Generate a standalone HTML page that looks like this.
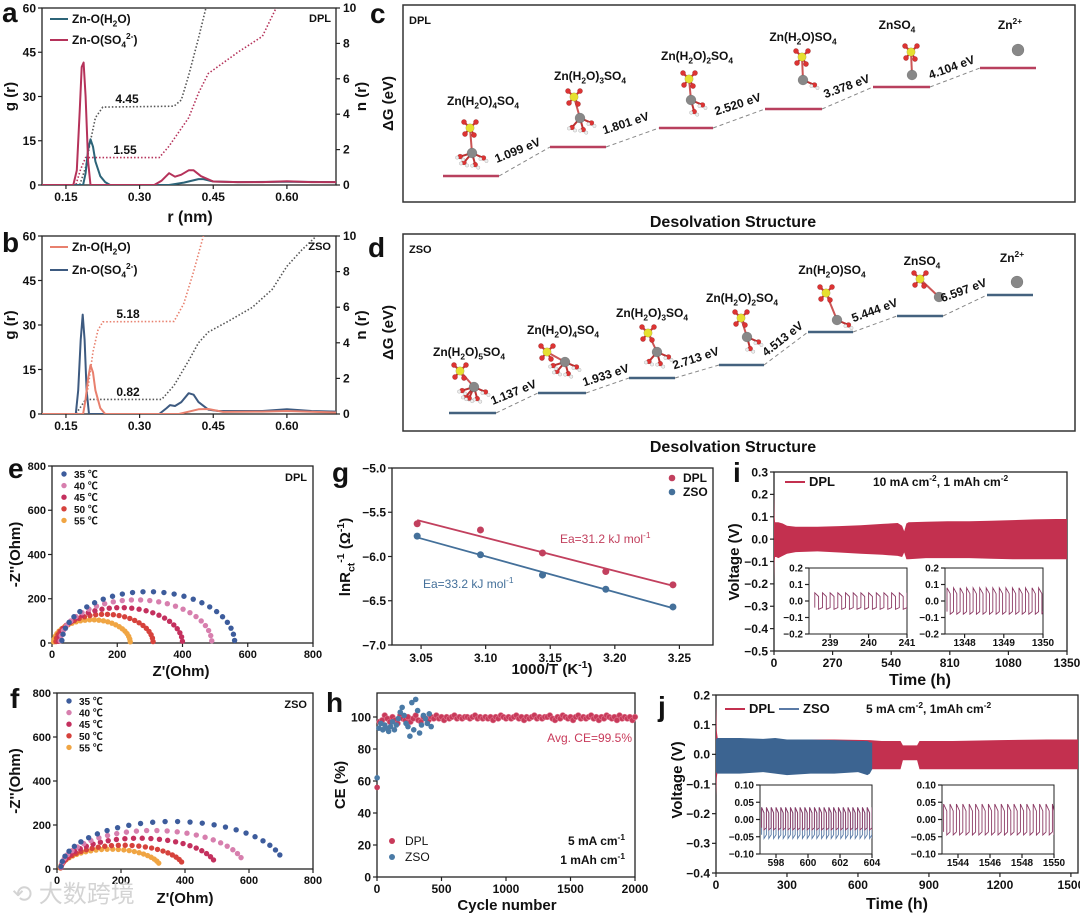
<!DOCTYPE html>
<html><head><meta charset="utf-8">
<style>
html,body{margin:0;padding:0;background:#fff;width:1080px;height:917px;overflow:hidden}
svg{display:block;font-family:"Liberation Sans","Noto Sans CJK SC",sans-serif}
</style></head>
<body>
<svg id="fig" width="1080" height="917" viewBox="0 0 1080 917"></svg>
<script>
// ---------- DATA ----------
// panel a (DPL RDF)
const aR_H2O=[0.10,0.185,0.19,0.195,0.20,0.205,0.21,0.22,0.23,0.24,0.36,0.39,0.42,0.43,0.45,0.50,0.60,0.70];
const aG_H2O=[0,0,4,12,15.5,13,8,3,1,0,0,0.8,2,2,1.2,1,1.1,1];
const aR_SO4=[0.10,0.165,0.172,0.178,0.182,0.186,0.190,0.195,0.20,0.33,0.345,0.36,0.372,0.385,0.40,0.41,0.425,0.45,0.50,0.55,0.60,0.65,0.70];
const aG_SO4=[0,0,5,25,40,41.5,30,8,0,0,1.5,4,2.8,3.5,5,5,3,1.2,1,1,1.3,1,1];
const aNR_H2O=[0.10,0.178,0.19,0.20,0.21,0.225,0.37,0.385,0.40,0.42,0.435,0.44];
const aN_H2O=[0,0,1,2.5,3.8,4.4,4.45,4.8,6.2,8.3,10,10.5];
const aNR_SO4=[0.10,0.17,0.18,0.19,0.34,0.36,0.38,0.40,0.42,0.44,0.47,0.50,0.55,0.578,0.59];
const aN_SO4=[0,0,0.9,1.55,1.55,2.2,3.0,3.8,5.2,6.3,6.9,7.5,8.4,10,10.5];
// panel b (ZSO RDF)
const bR_H2O=[0.10,0.185,0.19,0.195,0.20,0.205,0.21,0.22,0.23,0.38,0.42,0.44,0.47,0.55,0.60,0.70];
const bG_H2O=[0,0,5,12,16.5,14,8,2,0,0,1.6,1.7,0.7,0.8,1,0.5];
const bR_SO4=[0.10,0.17,0.175,0.18,0.184,0.188,0.192,0.197,0.34,0.355,0.362,0.372,0.385,0.40,0.41,0.42,0.44,0.46,0.55,0.60,0.65,0.70];
const bG_SO4=[0,0,8,25,33.5,25,8,0,0,2,3,2.7,4,7,6.5,4,1.5,1,1,1.6,1,0.8];
const bNR_H2O=[0.10,0.185,0.195,0.205,0.215,0.225,0.37,0.39,0.41,0.43,0.44];
const bN_H2O=[0,0,1.5,3.5,4.7,5.18,5.2,6.2,8,10,11];
const bNR_SO4=[0.10,0.17,0.18,0.19,0.345,0.37,0.40,0.42,0.44,0.48,0.53,0.57,0.60,0.63,0.66,0.67];
const bN_SO4=[0,0,0.4,0.82,0.82,1.6,3.0,4.0,4.6,5.2,6.0,7.0,8.3,9.2,10,10.3];
const rTicks=[0.15,0.30,0.45,0.60], rTickLabels=['0.15','0.30','0.45','0.60'];
const gTicks=[0,15,30,45,60], nTicks=[0,2,4,6,8,10];
// panels e/f (EIS)
const tempLabels=['35 ℃','40 ℃','45 ℃','50 ℃','55 ℃'];
const tempColors=['#3d5c9c','#d77fae','#c4305e','#d6423c','#f0a543'];
const eR0=[30,25,20,12,5], eRct=[560,490,400,310,240], ePeak=[232,195,160,130,105];
const fR0=[12,12,12,12,10], fRct=[712,588,500,398,325], fPeak=[216,175,140,108,90];
// panel g
const gX=[3.047,3.096,3.144,3.193,3.245];
const gDPL=[-5.63,-5.70,-5.96,-6.17,-6.32];
const gZSO=[-5.77,-5.98,-6.21,-6.37,-6.57];
// panel h
const hFirstDPL=56, hFirstZSO=62;
const hDPL=[97,98,101,99,97,100,98,96,101,99,98,100,97,99,101,98,97,100,99,98,
100,99,101,99,100,98,100,99,100,101,99,100,99,100,100,99,100,101,99,100,
99,100,99,100,98,100,99,101,100,99,100,99,100,101,99,100,98,100,99,100,
101,99,100,99,100,100,101,99,98,100,99,101,100,99,100,98,100,101,99,100,
99,100,101,99,100,98,100,99,101,100,99,100,98,101,99,100,99,100,98,100];
const hZSO=[93,96,92,95,93,91,94,97,92,95,99,103,106,101,96,94,88,109,92,111,104,90,95,101,99,96,102,94];
// panel i
const iT=[0,2,5,10,20,40,60,100,200,300,400,500,570,590,600,610,620,700,800,900,1000,1100,1200,1300,1350];
const iUp=[0.21,0.1,0.075,0.075,0.075,0.07,0.06,0.055,0.055,0.058,0.062,0.068,0.072,0.06,0.035,0.07,0.075,0.078,0.08,0.08,0.082,0.085,0.088,0.09,0.09];
const iLo=[-0.18,-0.1,-0.08,-0.08,-0.085,-0.075,-0.065,-0.058,-0.055,-0.06,-0.065,-0.07,-0.075,-0.08,-0.06,-0.09,-0.09,-0.085,-0.085,-0.085,-0.088,-0.09,-0.09,-0.09,-0.09];
const iIns1Amp=[0.05,-0.05], iIns2Amp=[0.08,-0.08];
// panel j
const jT=[0,3,8,20,100,300,500,650,700,780,790,850,860,1000,1200,1400,1530];
const jUp=[0.17,0.08,0.05,0.05,0.05,0.05,0.05,0.048,0.045,0.045,0.03,0.03,0.045,0.045,0.048,0.05,0.05];
const jLo=[-0.14,-0.08,-0.05,-0.05,-0.05,-0.05,-0.05,-0.05,-0.05,-0.05,-0.02,-0.02,-0.05,-0.05,-0.05,-0.05,-0.05];
const zT=[0,5,20,100,200,250,300,400,500,600,640,650,660];
const zUp=[0.05,0.055,0.055,0.055,0.052,0.055,0.05,0.05,0.048,0.045,0.045,0.04,0.04];
const zLo=[-0.06,-0.065,-0.065,-0.065,-0.06,-0.065,-0.07,-0.065,-0.065,-0.06,-0.07,-0.065,-0.05];
const jIns1Amp=[0.035,-0.03], jIns2Amp=[0.045,-0.045];

// ---------- HELPERS ----------
const NS='http://www.w3.org/2000/svg';
const svg=document.getElementById('fig');
function mk(tag,attrs,parent){const e=document.createElementNS(NS,tag);for(const k in attrs)e.setAttribute(k,attrs[k]);(parent||svg).appendChild(e);return e;}
function nm(e,name,inter){
  
  
  return e;
}
function lin(d,r){return v=>r[0]+(v-d[0])*(r[1]-r[0])/(d[1]-d[0]);}
function T(x,y,s,o,name){
  o=o||{};const fs=o.fs||12;
  const t=mk('text',{x:x,y:y,'font-size':fs,'font-weight':o.w||'bold','text-anchor':o.a||'middle',fill:o.c||'#111'},o.p);
  if(o.r)t.setAttribute('transform','rotate('+o.r+' '+x+' '+y+')');
  const parts=String(s).split(/(_\{[^}]*\}|\^\{[^}]*\})/);let shift=0;
  parts.forEach(p=>{if(!p)return;let target=0,txt=p,small=false;
    if(p.startsWith('_{')){txt=p.slice(2,-1);target=fs*0.3;small=true;}
    else if(p.startsWith('^{')){txt=p.slice(2,-1);target=-fs*0.4;small=true;}
    const ts=mk('tspan',{dy:target-shift},t);if(small)ts.setAttribute('font-size',fs*0.7);ts.textContent=txt;shift=target;});
  nm(t,name||'label',false);return t;
}
let clipN=0;
const defs=mk('defs',{});
function axes(o){
  const g=mk('g',{});nm(g,o.name,false);
  const X=lin(o.xd,[o.x0,o.x1]),Y=lin(o.yd,[o.y1,o.y0]);
  const cp=mk('clipPath',{id:'cp'+(++clipN)},defs);
  mk('rect',{x:o.x0,y:o.y0,width:o.x1-o.x0,height:o.y1-o.y0},cp);
  const fs=o.fs||12;
  o.xt.forEach((v,i)=>{const x=X(v);const tk=mk('line',{x1:x,x2:x,y1:o.y1,y2:o.y1+4,stroke:'#222','stroke-width':1.2},g);nm(tk,'x-tick',false);
    if(o.xl)T(x,o.y1+(o.xlo||15),o.xl[i],{fs:fs,p:g},'x-tick-label');});
  o.yt.forEach((v,i)=>{const y=Y(v);const tk=mk('line',{x1:o.x0-4,x2:o.x0,y1:y,y2:y,stroke:'#222','stroke-width':1.2},g);nm(tk,'y-tick',false);
    if(o.yl)T(o.x0-6,y+fs*0.36,o.yl[i],{fs:fs,a:'end',p:g},'y-tick-label');});
  const fr=mk('rect',{x:o.x0,y:o.y0,width:o.x1-o.x0,height:o.y1-o.y0,fill:'none',stroke:'#222','stroke-width':o.sw||1.3},g);nm(fr,o.name+'-frame',false);
  return {X:X,Y:Y,g:g,clip:'url(#cp'+clipN+')'};
}
function pathD(xs,ys,X,Y){return xs.map((v,i)=>(i?'L':'M')+X(v).toFixed(1)+','+Y(ys[i]).toFixed(1)).join('');}
function band(ts,up,lo,X,Y){let d=ts.map((v,i)=>(i?'L':'M')+X(v).toFixed(1)+','+Y(up[i]).toFixed(1)).join('');
  for(let i=ts.length-1;i>=0;i--)d+='L'+X(ts[i]).toFixed(1)+','+Y(lo[i]).toFixed(1);return d+'Z';}
function wave(X,Y,t0,t1,per,amp){let d='';for(let t=t0;t<t1;t+=per){const h=Math.min(t+per/2,t1),e=Math.min(t+per,t1);
  d+=(d?'L':'M')+X(t).toFixed(1)+','+Y(amp[1]*0.8).toFixed(1)+'L'+X(t).toFixed(1)+','+Y(amp[0]).toFixed(1)+'L'+X(h).toFixed(1)+','+Y(amp[0]*0.55).toFixed(1)+'L'+X(h).toFixed(1)+','+Y(amp[1]).toFixed(1)+'L'+X(e).toFixed(1)+','+Y(amp[1]*0.8).toFixed(1);}return d;}

// ---------- PANEL LETTERS ----------
[['a',2,22],['b',2,252],['c',370,23],['d',368,257],['e',8,478],['f',10,708],['g',332,482],['h',326,712],['i',733,482],['j',658,716]].forEach(l=>{T(l[1],l[2],l[0],{fs:28,a:'start'},'panel-letter-'+l[0]);});

// ---------- PANELS a,b ----------
function rdfPanel(key,y0,y1,series,nser,labels,leg,tag){
  const A=axes({name:'panel-'+key+'-rdf-plot',x0:42,x1:336,y0:y0,y1:y1,xd:[0.1012,0.7],yd:[0,60],xt:rTicks,xl:rTickLabels,yt:gTicks,yl:gTicks.map(String),xlo:16,fs:12});
  const N=lin([0,10],[y1,y0]);
  nTicks.forEach(v=>{const l=mk('line',{x1:336,x2:340,y1:N(v),y2:N(v),stroke:'#222','stroke-width':1.2});nm(l,'right-y-tick',false);
    T(343,N(v)+4,String(v),{fs:12,a:'start'},'right-y-tick-label');});
  nser.forEach(s=>{const p=mk('path',{d:pathD(s[0],s[1],A.X,N),fill:'none',stroke:s[2],'stroke-width':1.6,'stroke-dasharray':'1.5 2','clip-path':A.clip});nm(p,s[3],false);});
  series.forEach(s=>{const p=mk('path',{d:pathD(s[0],s[1],A.X,A.Y),fill:'none',stroke:s[2],'stroke-width':2,'stroke-linejoin':'round','clip-path':A.clip});nm(p,s[3],false);});
  labels.forEach(l=>T(l[0],l[1],l[2],{fs:12},'coordination-number'));
  leg.forEach((l,i)=>{const ly=y0+11+i*(key==='a'?21:23);const ln=mk('line',{x1:50,x2:68,y1:ly,y2:ly,stroke:l[1],'stroke-width':2});nm(ln,'legend-line',false);
    T(72,ly+4,l[0],{fs:12,a:'start'},'legend-entry');});
  T(331,y0+14,tag,{fs:11,a:'end'},'panel-tag');
  T(15,(y0+y1)/2,'g (r)',{fs:15,r:-90},'y-axis-title');
  T(366,(y0+y1)/2,'n (r)',{fs:15,r:-90},'right-y-axis-title');
}
rdfPanel('a',8,185,[[aR_H2O,aG_H2O,'#2c6478','curve-zn-o-h2o'],[aR_SO4,aG_SO4,'#b5325a','curve-zn-o-so4']],
 [[aNR_H2O,aN_H2O,'#555','n-zn-o-h2o'],[aNR_SO4,aN_SO4,'#b5325a','n-zn-o-so4']],[[127,103,'4.45'],[125,154,'1.55']],
 [['Zn-O(H_{2}O)','#2c6478'],['Zn-O(SO_{4}^{2-})','#b5325a']],'DPL');
T(190,222,'r (nm)',{fs:16},'x-axis-title');
rdfPanel('b',236,414,[[bR_SO4,bG_SO4,'#3d5a80','curve-zn-o-so4'],[bR_H2O,bG_H2O,'#e8806e','curve-zn-o-h2o']],
 [[bNR_H2O,bN_H2O,'#e8806e','n-zn-o-h2o'],[bNR_SO4,bN_SO4,'#555','n-zn-o-so4']],[[128,318,'5.18'],[128,396,'0.82']],
 [['Zn-O(H_{2}O)','#e8806e'],['Zn-O(SO_{4}^{2-})','#3d5a80']],'ZSO');

// ---------- PANELS c,d ----------
function atom(x,y,r,c,p){const a=mk('circle',{cx:x,cy:y,r:r,fill:c,stroke:'rgba(0,0,0,0.25)','stroke-width':0.5},p);nm(a,'atom',false);}
function molecule(s,z,nw,p){
  const g=mk('g',{},p);nm(g,'molecule-structure',false);
  if(s){[[-6,-6],[6,-6],[-5,6],[4,7]].forEach(o=>{const b=mk('line',{x1:s[0],y1:s[1],x2:s[0]+o[0],y2:s[1]+o[1],stroke:'#c33','stroke-width':2},g);nm(b,'bond',false);});
    const b2=mk('line',{x1:s[0],y1:s[1],x2:z[0],y2:z[1],stroke:'#c55','stroke-width':2},g);nm(b2,'bond',false);}
  const ang=[0.3,1.3,2.3,3.3,4.3,5.3];
  for(let i=0;i<nw;i++){const ox=z[0]+Math.cos(ang[i])*12,oy=z[1]+Math.abs(Math.sin(ang[i]))*10+2;
    const b=mk('line',{x1:z[0],y1:z[1],x2:ox,y2:oy,stroke:'#b33','stroke-width':2},g);nm(b,'bond',false);
    atom(ox,oy,2.5,'#d33',g);atom(ox+3,oy+3,1.7,'#eee',g);atom(ox-3,oy+1,1.7,'#eee',g);}
  if(s){[[-6,-6],[6,-6],[-5,6],[4,7]].forEach(o=>atom(s[0]+o[0],s[1]+o[1],2.6,'#d33',g));atom(s[0],s[1],4.2,'#e6e030',g);}
  atom(z[0],z[1],s?5:6,'#888',g);
}
function dgPanel(key,y0,y1,titleY,levels,lvColor,labels,mols,energies,tag){
  const bx=mk('rect',{x:403,y:y0,width:672,height:y1-y0,fill:'none',stroke:'#333','stroke-width':1.5});nm(bx,'panel-'+key+'-frame',false);
  T(409,y0+19,tag,{fs:11,a:'start'},'panel-tag');
  T(393,(y0+y1)/2,'ΔG (eV)',{fs:15,r:-90},'y-axis-title');
  T(733,titleY,'Desolvation Structure',{fs:16},'x-axis-title');
  levels.forEach((l,i)=>{const ln=mk('line',{x1:l[0],x2:l[1],y1:l[2],y2:l[2],stroke:lvColor,'stroke-width':2.5});nm(ln,'energy-level',false);
    if(i<levels.length-1){const n=levels[i+1];const dl=mk('line',{x1:l[1],y1:l[2],x2:n[0],y2:n[2],stroke:'#888','stroke-width':1,'stroke-dasharray':'4 3'});nm(dl,'transition-line',false);}});
  mols.forEach(m=>molecule(m[0],m[1],m[2]));
  labels.forEach(l=>T(l[0],l[1],l[2],{fs:12},'species-label'));
  energies.forEach(e=>T(e[0],e[1],e[2],{fs:12,r:e[3]},'energy-label'));
}
dgPanel('c',5,202,227,
 [[443,499,176],[550,606,147],[659,713,128],[765,822,109],[873,930,87],[980,1036,68]],'#b8405e',
 [[483,105,'Zn(H_{2}O)_{4}SO_{4}'],[590,80,'Zn(H_{2}O)_{3}SO_{4}'],[697,60,'Zn(H_{2}O)_{2}SO_{4}'],[803,41,'Zn(H_{2}O)SO_{4}'],[897,29,'ZnSO_{4}'],[1010,29,'Zn^{2+}']],
 [[[470,128],[472,153],4],[[574,97],[580,118],3],[[689,79],[691,100],2],[[802,57],[803,80],1],[[911,52],[912,75],0],[null,[1018,50],0]],
 [[519,154,'1.099 eV',-22],[627,127,'1.801 eV',-18],[739,108,'2.520 eV',-18],[848,90,'3.378 eV',-20],[953,71,'4.104 eV',-20]],'DPL');
dgPanel('d',234,431,452,
 [[449,496,413],[538,586,393],[629,675,378],[719,764,365],[808,853,332],[897,943,316],[987,1033,295]],'#44627f',
 [[469,356,'Zn(H_{2}O)_{5}SO_{4}'],[563,334,'Zn(H_{2}O)_{4}SO_{4}'],[652,317,'Zn(H_{2}O)_{3}SO_{4}'],[742,302,'Zn(H_{2}O)_{2}SO_{4}'],[832,274,'Zn(H_{2}O)SO_{4}'],[922,265,'ZnSO_{4}'],[1012,262,'Zn^{2+}']],
 [[[460,371],[474,387],5],[[547,352],[565,362],4],[[648,333],[657,352],3],[[741,318],[747,337],2],[[826,293],[837,320],1],[[920,279],[939,297],0],[null,[1017,282],0]],
 [[515,396,'1.137 eV',-22],[607,379,'1.933 eV',-18],[697,362,'2.713 eV',-18],[785,342,'4.513 eV',-38],[876,314,'5.444 eV',-20],[965,294,'6.597 eV',-20]],'ZSO');

// ---------- PANELS e,f ----------
function eisPanel(key,y0,y1,x0,R0,Rct,Pk,tag,tEnd){
  const ticks=[0,200,400,600,800];
  const A=axes({name:'panel-'+key+'-nyquist-plot',x0:x0,x1:313,y0:y0,y1:y1,xd:[0,800],yd:[0,800],xt:ticks,xl:ticks.map(String),yt:ticks,yl:ticks.map(String),fs:11,xlo:15});
  for(let s=4;s>=0;s--){const g=mk('g',{});nm(g,'series-'+tempLabels[s].replace(/\D/g,'')+'c',false);
    const n=26;for(let k=0;k<n;k++){const t=0.05+(tEnd-0.05)*k/(n-1);
      const zr=R0[s]+(Rct[s]-R0[s])*(1-Math.cos(t))/2, zi=Pk[s]*Math.sin(t);
      const c=mk('circle',{cx:A.X(zr),cy:A.Y(zi),r:2.7,fill:tempColors[s]},g);nm(c,'data-point',false);}}
  tempLabels.forEach((l,i)=>{const ly=y0+8+i*11.6;const c=mk('circle',{cx:x0+12,cy:ly,r:2.7,fill:tempColors[i]});nm(c,'legend-marker',false);
    T(x0+22,ly+4,l,{fs:10,a:'start'},'legend-entry');});
  T(307,y0+15,tag,{fs:11,a:'end'},'panel-tag');
  T(20,(y0+y1)/2,"-Z''(Ohm)",{fs:15,r:-90},'y-axis-title');
}
eisPanel('e',466,643,52,eR0,eRct,ePeak,'DPL',Math.PI-0.05);
T(181,676,"Z'(Ohm)",{fs:15},'x-axis-title');
eisPanel('f',693,869,57,fR0,fRct,fPeak,'ZSO',Math.PI-0.3);
T(185,903,"Z'(Ohm)",{fs:15},'x-axis-title');
const wm=T(12,902,'⟲ 大数跨境',{fs:24,a:'start',c:'#d4d4d4',w:'normal'},'watermark');

// ---------- PANEL g ----------
(function(){
  const xt=[3.05,3.10,3.15,3.20,3.25], yt=[-5.0,-5.5,-6.0,-6.5,-7.0];
  const A=axes({name:'panel-g-arrhenius-plot',x0:392,x1:713,y0:468,y1:645,xd:[3.0275,3.276],yd:[-7,-5],xt:xt,xl:xt.map(v=>v.toFixed(2)),yt:yt,yl:yt.map(v=>'−'+Math.abs(v).toFixed(1)),fs:12,xlo:17});
  [[gDPL,'#c2405e','dpl'],[gZSO,'#44709a','zso']].forEach(s=>{
    const n=gX.length,mx=gX.reduce((a,b)=>a+b)/n,my=s[0].reduce((a,b)=>a+b)/n;
    let sxy=0,sxx=0;gX.forEach((x,i)=>{sxy+=(x-mx)*(s[0][i]-my);sxx+=(x-mx)*(x-mx);});const k=sxy/sxx;
    const ln=mk('line',{x1:A.X(gX[0]),y1:A.Y(my+k*(gX[0]-mx)),x2:A.X(gX[n-1]),y2:A.Y(my+k*(gX[n-1]-mx)),stroke:s[1],'stroke-width':1.8});nm(ln,'fit-line-'+s[2],false);
    gX.forEach((x,i)=>{const c=mk('circle',{cx:A.X(x),cy:A.Y(s[0][i]),r:3.5,fill:s[1]});nm(c,'point-'+s[2],false);});});
  [['DPL','#c2405e',478],['ZSO','#44709a',492]].forEach(l=>{const c=mk('circle',{cx:672,cy:l[2],r:3.3,fill:l[1]});nm(c,'legend-marker',false);T(683,l[2]+4,l[0],{fs:12,a:'start'},'legend-entry');});
  T(560,543,'Ea=31.2 kJ mol^{-1}',{fs:12,a:'start',c:'#c2405e',w:'normal'},'annotation-dpl');
  T(423,588,'Ea=33.2 kJ mol^{-1}',{fs:12,a:'start',c:'#44709a',w:'normal'},'annotation-zso');
  T(350,557,'lnR_{ct}^{-1} (Ω^{-1})',{fs:15,r:-90},'y-axis-title');
  T(552,674,'1000/T (K^{-1})',{fs:15},'x-axis-title');
})();

// ---------- PANEL h ----------
(function(){
  const xt=[0,500,1000,1500,2000], yt=[0,20,40,60,80,100];
  const A=axes({name:'panel-h-ce-plot',x0:377,x1:635,y0:693,y1:877,xd:[0,2000],yd:[0,115],xt:xt,xl:xt.map(String),yt:yt,yl:yt.map(String),fs:12,xlo:16});
  const gd=mk('g',{});nm(gd,'series-dpl',false);
  const c0=mk('circle',{cx:A.X(1),cy:A.Y(hFirstDPL),r:2.8,fill:'#c83a5a'},gd);nm(c0,'point-dpl',false);
  hDPL.forEach((v,i)=>{const c=mk('circle',{cx:A.X((i+1)*20),cy:A.Y(v),r:2.8,fill:'#c83a5a',stroke:'#e07890','stroke-width':0.6},gd);nm(c,'point-dpl',false);});
  const gz=mk('g',{});nm(gz,'series-zso',false);
  const z0=mk('circle',{cx:A.X(1),cy:A.Y(hFirstZSO),r:2.8,fill:'#4a7aa6'},gz);nm(z0,'point-zso',false);
  hZSO.forEach((v,i)=>{const c=mk('circle',{cx:A.X((i+1)*15),cy:A.Y(v),r:2.8,fill:'#4a7aa6'},gz);nm(c,'point-zso',false);});
  T(632,742,'Avg. CE=99.5%',{fs:12,a:'end',c:'#c83a5a',w:'normal'},'annotation-avg-ce');
  [['DPL','#c83a5a',841],['ZSO','#4a7aa6',857]].forEach(l=>{const c=mk('circle',{cx:392,cy:l[2],r:3,fill:l[1]});nm(c,'legend-marker',false);T(405,l[2]+4,l[0],{fs:12,a:'start',w:'normal'},'legend-entry');});
  T(625,845,'5 mA cm^{-1}',{fs:12,a:'end'},'condition-label');
  T(625,864,'1 mAh cm^{-1}',{fs:12,a:'end'},'condition-label');
  T(345,785,'CE (%)',{fs:15,r:-90},'y-axis-title');
  T(507,910,'Cycle number',{fs:15},'x-axis-title');
})();

// ---------- PANEL i ----------
function inset(name,x0,x1,y0,y1,xd,yd,xt,yt,waves){
  const A=axes({name:name,x0:x0,x1:x1,y0:y0,y1:y1,xd:xd,yd:yd,xt:xt,xl:xt.map(String),yt:yt,yl:yt.map(v=>v<0?'−'+Math.abs(v).toFixed(yd[1]<0.15?2:1):v.toFixed(yd[1]<0.15?2:1)),fs:10,xlo:12,sw:1});
  waves.forEach(w=>{const p=mk('path',{d:wave(A.X,A.Y,w[0],xd[1],w[1],w[2]),fill:'none',stroke:w[3],'stroke-width':0.9,'clip-path':A.clip});nm(p,'inset-voltage-trace',false);});
}
(function(){
  const xt=[0,270,540,810,1080,1350], yt=[0.3,0.2,0.1,0,-0.1,-0.2,-0.3,-0.4,-0.5];
  const A=axes({name:'panel-i-voltage-plot',x0:774,x1:1067,y0:472,y1:651,xd:[0,1350],yd:[-0.5,0.3],xt:xt,xl:xt.map(String),yt:yt,yl:yt.map(v=>v<0?'−'+Math.abs(v).toFixed(1):v.toFixed(1)),fs:12,xlo:16});
  const b=mk('path',{d:band(iT,iUp,iLo,A.X,A.Y),fill:'#c3304f','clip-path':A.clip});nm(b,'voltage-band-dpl',false);
  inset('inset-i-early',809,907,568,634,[238.45,241],[-0.2,0.2],[239,240,241],[0.2,0.1,0,-0.1,-0.2],[[238.6,0.2,iIns1Amp,'#8c3a64']]);
  inset('inset-i-late',945,1043,568,634,[1347.5,1350],[-0.2,0.2],[1348,1349,1350],[0.2,0.1,0,-0.1,-0.2],[[1347.55,0.167,iIns2Amp,'#8c3a64']]);
  const ll=mk('line',{x1:785,x2:805,y1:482,y2:482,stroke:'#c3304f','stroke-width':2});nm(ll,'legend-line',false);
  T(809,486,'DPL',{fs:13,a:'start'},'legend-entry');
  T(873,486,'10 mA cm^{-2}, 1 mAh cm^{-2}',{fs:12,a:'start'},'condition-label');
  T(739,562,'Voltage (V)',{fs:15,r:-90},'y-axis-title');
  T(920,685,'Time (h)',{fs:16},'x-axis-title');
})();

// ---------- PANEL j ----------
(function(){
  const xt=[0,300,600,900,1200,1500], yt=[0.2,0.1,0,-0.1,-0.2,-0.3,-0.4];
  const A=axes({name:'panel-j-voltage-plot',x0:716,x1:1078,y0:695,y1:873,xd:[0,1530],yd:[-0.4,0.2],xt:xt,xl:xt.map(String),yt:yt,yl:yt.map(v=>v<0?'−'+Math.abs(v).toFixed(1):v.toFixed(1)),fs:12,xlo:16});
  const b=mk('path',{d:band(jT,jUp,jLo,A.X,A.Y),fill:'#c3304f','clip-path':A.clip});nm(b,'voltage-band-dpl',false);
  const z=mk('path',{d:band(zT,zUp,zLo,A.X,A.Y),fill:'#3c6491','clip-path':A.clip});nm(z,'voltage-band-zso',false);
  inset('inset-j-mid',760,872,785,854,[597,604],[-0.1,0.1],[598,600,602,604],[0.1,0.05,0,-0.05,-0.1],[[597.1,0.3,[0.035,-0.055],'#5a7aa6'],[597.1,0.3,jIns1Amp,'#8c3a64']]);
  inset('inset-j-late',942,1054,785,854,[1543,1550],[-0.1,0.1],[1544,1546,1548,1550],[0.1,0.05,0,-0.05,-0.1],[[1543.1,0.4,jIns2Amp,'#8c3a64']]);
  const l1=mk('line',{x1:725,x2:745,y1:709,y2:709,stroke:'#c3304f','stroke-width':2});nm(l1,'legend-line',false);
  T(749,713,'DPL',{fs:13,a:'start'},'legend-entry');
  const l2=mk('line',{x1:779,x2:799,y1:709,y2:709,stroke:'#5a7aa6','stroke-width':2});nm(l2,'legend-line',false);
  T(803,713,'ZSO',{fs:13,a:'start'},'legend-entry');
  T(866,713,'5 mA cm^{-2}, 1mAh cm^{-2}',{fs:12,a:'start'},'condition-label');
  T(682,780,'Voltage (V)',{fs:15,r:-90},'y-axis-title');
  T(897,909,'Time (h)',{fs:16},'x-axis-title');
})();
</script>
</body></html>
